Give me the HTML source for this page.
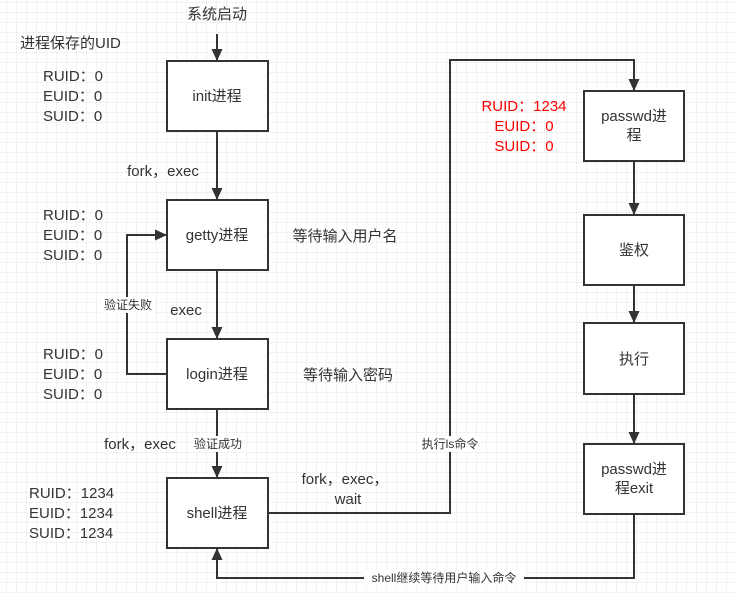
<!DOCTYPE html>
<html><head><meta charset="utf-8"><style>
html,body{margin:0;padding:0;background:#fff}
svg{display:block}
text{font-family:"Liberation Sans","Noto Sans CJK SC",sans-serif;font-size:15px;fill:#333}
.s{font-size:12px}
</style></head><body>
<svg width="736" height="593" viewBox="0 0 736 593" xmlns="http://www.w3.org/2000/svg">
<defs>
<pattern id="g" x="7" y="3" width="10" height="10" patternUnits="userSpaceOnUse">
<path d="M10 0V10M0 10H10" stroke="#e6e6e6" stroke-width="1" fill="none"/>
</pattern>
<marker id="a" markerWidth="12" markerHeight="12" refX="11" refY="6" orient="auto" markerUnits="userSpaceOnUse">
<path d="M0,0.5 L12,6 L0,11.5 Z" fill="#333"/>
</marker>
</defs>
<rect width="736" height="593" fill="url(#g)"/>
<g stroke="#333" stroke-width="2" fill="none">
<line x1="217" y1="34" x2="217" y2="60" marker-end="url(#a)"/>
<line x1="217" y1="131" x2="217" y2="199" marker-end="url(#a)"/>
<line x1="217" y1="270" x2="217" y2="338" marker-end="url(#a)"/>
<line x1="217" y1="409" x2="217" y2="477" marker-end="url(#a)"/>
<polyline points="167,374 127,374 127,235 166,235" marker-end="url(#a)"/>
<polyline points="268,513 450,513 450,60 634,60 634,90" marker-end="url(#a)"/>
<line x1="634" y1="161" x2="634" y2="214" marker-end="url(#a)"/>
<line x1="634" y1="285" x2="634" y2="322" marker-end="url(#a)"/>
<line x1="634" y1="394" x2="634" y2="443" marker-end="url(#a)"/>
<polyline points="634,514 634,578 217,578 217,549" marker-end="url(#a)"/>
<rect x="167" y="61" width="101" height="70" fill="#fff"/>
<rect x="167" y="200" width="101" height="70" fill="#fff"/>
<rect x="167" y="339" width="101" height="70" fill="#fff"/>
<rect x="167" y="478" width="101" height="70" fill="#fff"/>
<rect x="584" y="91" width="100" height="70" fill="#fff"/>
<rect x="584" y="215" width="100" height="70" fill="#fff"/>
<rect x="584" y="323" width="100" height="71" fill="#fff"/>
<rect x="584" y="444" width="100" height="70" fill="#fff"/>
</g>
<g text-anchor="middle">
<text x="217" y="101">init进程</text>
<text x="217" y="240">getty进程</text>
<text x="217" y="379">login进程</text>
<text x="217" y="518">shell进程</text>
<text x="634" y="121">passwd进</text>
<text x="634" y="140">程</text>
<text x="634" y="255">鉴权</text>
<text x="634" y="364">执行</text>
<text x="634" y="474">passwd进</text>
<text x="634" y="493">程exit</text>
<text x="217" y="19">系统启动</text>
<text x="163" y="176">fork，exec</text>
<text x="186" y="315">exec</text>
<text x="140" y="449">fork，exec</text>
<text x="345" y="484">fork，exec，</text>
<text x="348" y="504">wait</text>
<text x="345" y="241">等待输入用户名</text>
<text x="348" y="380">等待输入密码</text>
</g>
<text x="20" y="48">进程保存的UID</text>
<g>
<text x="43" y="81">RUID：0</text><text x="43" y="101">EUID：0</text><text x="43" y="121">SUID：0</text>
<text x="43" y="220">RUID：0</text><text x="43" y="240">EUID：0</text><text x="43" y="260">SUID：0</text>
<text x="43" y="359">RUID：0</text><text x="43" y="379">EUID：0</text><text x="43" y="399">SUID：0</text>
<text x="29" y="498">RUID：1234</text><text x="29" y="518">EUID：1234</text><text x="29" y="538">SUID：1234</text>
</g>
<g text-anchor="middle">
<text x="524" y="111" style="fill:#f00">RUID：1234</text>
<text x="524" y="131" style="fill:#f00">EUID：0</text>
<text x="524" y="151" style="fill:#f00">SUID：0</text>
</g>
<rect x="101" y="297" width="54" height="16" fill="#fff"/>
<text class="s" x="128" y="309" text-anchor="middle">验证失败</text>
<rect x="192" y="436" width="52" height="16" fill="#fff"/>
<text class="s" x="218" y="448" text-anchor="middle">验证成功</text>
<rect x="419" y="436" width="62" height="16" fill="#fff"/>
<text class="s" x="450" y="448" text-anchor="middle">执行ls命令</text>
<rect x="364" y="570" width="160" height="16" fill="#fff"/>
<text class="s" x="444" y="582" text-anchor="middle">shell继续等待用户输入命令</text>
</svg>
</body></html>
